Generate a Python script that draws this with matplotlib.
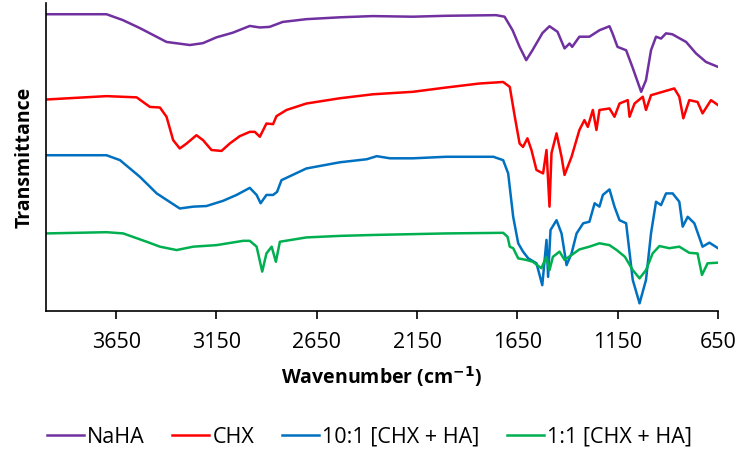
import matplotlib
matplotlib.use('Agg')
import matplotlib.pyplot as plt

plt.rcParams['font.family'] = ['Open Sans', 'DejaVu Sans']

# NaHA
wn_naha = [4000, 3698, 3617, 3532, 3399, 3283, 3218, 3150, 3069, 2984, 2934, 2885, 2820, 2702,
           2536, 2372, 2172, 2005, 1756, 1714, 1674, 1639, 1606, 1575, 1525, 1490, 1450, 1415,
           1390, 1377, 1341, 1291, 1241, 1191, 1176, 1151, 1108, 1077, 1033, 1009, 984, 959,
           934, 909, 878, 809, 760, 710, 650]
t_naha = [96.4, 96.4, 94.5, 91.9, 87.4, 86.4, 87.0, 88.9, 90.4, 92.6, 92.1, 92.3, 93.9, 94.8,
          95.4, 95.8, 95.6, 95.9, 96.1, 95.6, 91.2, 85.8, 81.5, 84.7, 90.3, 92.5, 90.7, 85.3,
          86.9, 85.8, 89.1, 89.1, 91.2, 92.5, 90.2, 85.8, 84.7, 79.3, 71.2, 75.0, 84.7, 89.1,
          88.5, 90.2, 89.9, 87.4, 83.7, 80.9, 79.3]

# CHX
wn_chx = [4000, 3698, 3548, 3482, 3432, 3399, 3366, 3333, 3299, 3250, 3217, 3175, 3125, 3084,
          3034, 2984, 2959, 2934, 2901, 2868, 2851, 2801, 2702, 2536, 2370, 2172, 2005, 1839,
          1721, 1688, 1663, 1639, 1622, 1600, 1580, 1555, 1522, 1505, 1490, 1480, 1455, 1430,
          1415, 1380, 1341, 1316, 1299, 1274, 1256, 1241, 1191, 1166, 1141, 1100, 1091, 1066,
          1025, 1009, 984, 926, 868, 843, 823, 793, 752, 727, 685, 650]
t_chx = [68.7, 69.8, 69.4, 66.3, 66.1, 63.1, 55.5, 52.8, 54.4, 57.1, 55.5, 52.3, 52.0, 54.4,
         56.8, 58.2, 58.2, 56.6, 60.9, 60.7, 63.3, 65.3, 67.4, 69.1, 70.4, 71.2, 72.6, 73.9,
         74.4, 72.8, 63.1, 54.4, 53.3, 56.1, 52.3, 45.8, 44.7, 52.3, 33.9, 51.3, 57.7, 50.1,
         44.2, 50.1, 58.8, 62.0, 59.8, 65.3, 58.8, 65.3, 65.8, 63.1, 67.4, 68.5, 63.1, 67.4,
         69.6, 65.3, 70.1, 71.2, 72.3, 69.6, 62.6, 68.5, 67.9, 64.2, 68.5, 66.9]

# 10:1 [CHX + HA]
wn_101 = [4000, 3698, 3631, 3532, 3448, 3333, 3266, 3200, 3117, 3050, 2984, 2950, 2930, 2901,
          2868, 2848, 2826, 2702, 2536, 2401, 2351, 2285, 2172, 2005, 1770, 1721, 1696, 1671,
          1646, 1622, 1596, 1555, 1526, 1505, 1497, 1485, 1455, 1430, 1405, 1380, 1355, 1322,
          1291, 1265, 1241, 1224, 1191, 1166, 1141, 1108, 1075, 1041, 1009, 984, 959, 934,
          909, 876, 843, 826, 801, 768, 727, 693, 650]
t_101 = [50.6, 50.6, 49.0, 43.6, 38.2, 33.3, 33.9, 34.1, 35.8, 37.7, 40.0, 37.7, 35.0, 37.7,
         37.7, 38.7, 42.5, 46.3, 48.3, 49.3, 50.3, 49.6, 49.6, 50.1, 50.1, 49.0, 44.7, 30.6,
         22.0, 19.3, 17.1, 15.5, 8.4, 23.1, 11.1, 26.3, 29.5, 25.2, 14.9, 18.7, 25.2, 28.5,
         29.0, 35.0, 33.9, 37.7, 39.5, 33.9, 29.5, 28.5, 10.1, 2.5, 10.1, 25.2, 35.5, 34.4,
         38.2, 38.2, 35.5, 27.4, 30.6, 28.5, 20.9, 22.2, 20.4]

# 1:1 [CHX + HA]
wn_11 = [4000, 3698, 3615, 3498, 3432, 3349, 3266, 3150, 3017, 2984, 2950, 2922, 2901, 2875,
         2854, 2834, 2702, 2536, 2370, 2005, 1721, 1699, 1688, 1671, 1646, 1606, 1573, 1531,
         1505, 1490, 1473, 1440, 1415, 1380, 1341, 1291, 1241, 1191, 1155, 1114, 1075, 1041,
         1009, 976, 942, 893, 843, 793, 752, 730, 702, 650]
t_11 = [25.2, 25.6, 25.2, 22.5, 20.9, 19.8, 20.9, 21.4, 22.8, 22.8, 20.9, 12.8, 18.7, 20.9,
        16.0, 22.5, 23.9, 24.4, 24.7, 25.2, 25.4, 24.1, 20.9, 20.4, 17.1, 16.6, 16.0, 13.9,
        17.6, 13.3, 17.6, 19.3, 16.6, 18.2, 20.0, 20.9, 22.0, 21.4, 19.8, 17.6, 13.3, 10.6,
        13.3, 18.7, 21.1, 20.4, 20.9, 18.9, 18.7, 11.7, 15.5, 15.7]

fig = plt.figure(figsize=(7.39, 4.51), dpi=100)
ax = fig.add_axes([0.0622, 0.3104, 0.9094, 0.6826])

ax.plot(wn_naha, t_naha, color='#7030A0', lw=1.8, label='NaHA')
ax.plot(wn_chx, t_chx, color='#FF0000', lw=1.8, label='CHX')
ax.plot(wn_101, t_101, color='#0070C0', lw=1.8, label='10:1 [CHX + HA]')
ax.plot(wn_11, t_11, color='#00B050', lw=1.8, label='1:1 [CHX + HA]')

ax.set_xlim(4000, 650)
ax.set_ylim(0, 100)
ax.set_xticks([3650, 3150, 2650, 2150, 1650, 1150, 650])
ax.tick_params(axis='x', direction='out', length=6, width=1.2, labelsize=15.5, pad=9)
ax.set_yticks([])
ax.spines['top'].set_visible(False)
ax.spines['right'].set_visible(False)
ax.spines['left'].set_linewidth(1.2)
ax.spines['bottom'].set_linewidth(1.2)

ax.set_xlabel('Wavenumber (cm$^{\\mathbf{-1}}$)', fontsize=14, fontweight='bold', labelpad=8)
ax.set_ylabel('Transmittance', fontsize=14, fontweight='bold', labelpad=8)

fig.legend(loc='center', bbox_to_anchor=(0.5, 0.031), ncol=4, frameon=False,
           fontsize=15.5, handlelength=1.7, handletextpad=0.15, columnspacing=1.3)

fig.savefig('out.png', dpi=100)
